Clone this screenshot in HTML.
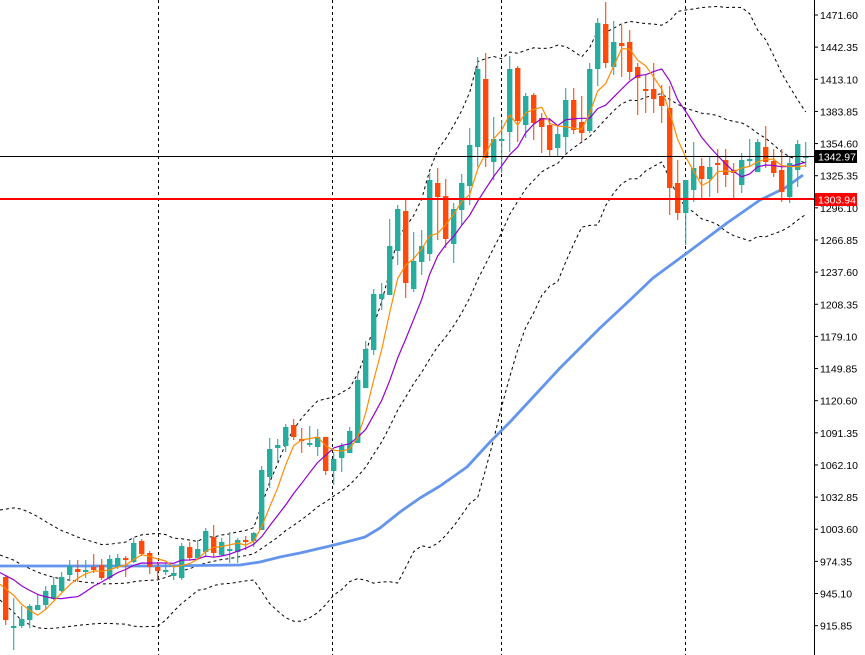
<!DOCTYPE html>
<html><head><meta charset="utf-8"><style>
html,body{margin:0;padding:0;background:#fff;}
svg{display:block;font-family:"Liberation Sans",sans-serif;}
</style></head><body>
<svg id="c" width="865" height="655" xmlns="http://www.w3.org/2000/svg"></svg>
<script>
const D=[
[577,620,575,625],[626,626,598,650],[626,619,606,628],[620,606,604,628],[610,605,594,610],
[605,591,586,609],[599,585,577,600],[591,577,572,592],[575,566,560,581],[569,572,560,582],
[570,570,560,578],[567,570,554,573],[565,578,559,580],[578,559,555,580],[567,558,554,569],
[558,560,556,577],[562,543,538,563],[541,554,539,556],[553,567,551,574],[567,571,562,580],
[570,570,563,575],[576,573,567,580],[578,546,543,580],[547,558,542,560],[558,549,540,560],
[552,531,528,557],[537,553,525,557],[555,542,538,556],[551,549,532,563],[552,540,538,563],
[540,542,536,550],[541,533,532,547],[530,470,466,530],[477,449,438,488],[448,445,439,462],
[446,427,424,452],[425,437,419,440],[439,441,428,453],[443,443,426,447],[447,437,429,456],
[437,471,437,475],[471,459,452,485],[458,446,443,472],[453,431,427,453],[443,380,373,443],
[388,349,341,388],[350,294,289,355],[299,294,283,310],[295,246,219,295],[251,209,205,265],
[211,283,198,298],[289,261,232,292],[262,246,230,275],[254,180,173,261],[183,197,168,240],
[196,239,179,248],[244,209,203,263],[210,183,174,225],[186,145,128,205],[147,69,57,167],
[79,158,53,167],[162,139,117,180],[139,139,120,173],[132,69,56,152],[68,121,66,142],
[125,96,93,138],[95,123,93,140],[118,127,113,153],[125,150,118,157],[148,134,125,157],
[137,100,88,153],[100,130,88,134],[122,133,96,142],[131,69,63,133],[69,23,18,86],
[24,63,2,68],[67,42,21,75],[43,46,25,77],[42,72,30,80],[67,78,63,115],
[89,91,75,113],[89,99,63,113],[96,106,85,123],[108,188,86,215],[183,213,160,220],
[213,180,180,245],[190,168,142,202],[166,179,158,200],[179,167,156,197],[163,165,149,193],
[160,175,149,187],[170,173,163,200],[185,160,153,193],[159,159,139,167],[172,142,139,172],
[147,162,126,168],[161,173,149,177],[170,192,149,202],[197,163,157,203],[170,144,140,187],
[156,156,142,167]];
const N=D.length, X=i=>5.7+8*i;
const svg=document.getElementById('c');
let h='';
[158,332,501,685].forEach(x=>{h+=`<line x1="${x+.5}" y1="0" x2="${x+.5}" y2="655" stroke="#000" stroke-dasharray="3,3"/>`;});
const C=D.map(d=>d[1]);
const pad=[];for(let k=0;k<20;k++)pad.push(520+60*k/19);
const A=pad.concat(C);
function sma(p,i){let s=0;for(let k=0;k<p;k++)s+=A[i+20-k];return s/p;}
function sd(p,i){const m=sma(p,i);let s=0;for(let k=0;k<p;k++){const v=A[i+20-k]-m;s+=v*v;}return Math.sqrt(s/p);}
function pl(pts,st){return `<polyline fill="none" stroke-linejoin="round" ${st} points="${pts.map(p=>p[0].toFixed(1)+','+p[1].toFixed(1)).join(' ')}"/>`;}
let up=[],mid=[],lo=[],o=[],pu=[];
for(let i=0;i<N;i++){const m=sma(20,i),s=sd(20,i);up.push([X(i),m-2*s]);mid.push([X(i),m]);lo.push([X(i),m+2*s]);o.push([X(i),sma(5,i)]);pu.push([X(i),sma(10,i)]);}
up[0][0]=0;mid[0][0]=0;lo[0][0]=0;o[0][0]=0;pu[0][0]=0;
const ds='stroke="#000" stroke-width="1" stroke-dasharray="3,3"';
h+=pl(up,ds)+pl(mid,ds)+pl(lo,ds);
const B=[[0,566],[150,566],[240,565],[260,562],[280,557],[300,553],[330,546],[350,541],[365,537],[380,528],[400,512],[420,498],[440,486],[467,467],[490,442],[510,422],[535,395],[560,368],[600,328],[630,300],[653,278],[687,253],[727,223],[760,200],[785,188],[803,175]];
h+=pl(B,'stroke="#6495ed" stroke-width="2.8"');
for(let i=0;i<N;i++){const [op,cl,hi,lw]=D[i];const x=X(i);const col=cl<=op?'#26ada0':'#ff4a0a';
h+=`<line x1="${x}" y1="${hi}" x2="${x}" y2="${lw}" stroke="${col}" stroke-width="1.1"/>`;
const t=Math.min(op,cl),bh=Math.max(Math.abs(op-cl),2);
h+=`<rect x="${x-2.7}" y="${t}" width="5.4" height="${bh}" fill="${col}"/>`;}
h+=pl(pu,'stroke="#9400d3" stroke-width="1.2"');
h+=pl(o,'stroke="#ff8c00" stroke-width="1.2"');
h+=`<line x1="0" y1="156.5" x2="814" y2="156.5" stroke="#000" stroke-width="1"/>`;
h+=`<line x1="0" y1="199" x2="814" y2="199" stroke="#ff0000" stroke-width="2"/>`;
h+=`<rect x="815" y="0" width="50" height="655" fill="#fff"/>`;
h+=`<line x1="814.5" y1="0" x2="814.5" y2="655" stroke="#000"/>`;
for(let k=0;k<20;k++){const y=15+k*32.14;if(y>650)break;const v=(1471.60-29.25*k).toFixed(2);
h+=`<line x1="814" y1="${y}" x2="818" y2="${y}" stroke="#000"/><text x="820" y="${y+4}" font-size="10.5" fill="#000">${v}</text>`;}
h+=`<rect x="815" y="150" width="42" height="13" fill="#000"/><text x="818" y="160.5" font-size="10.5" fill="#fff">1342.97</text>`;
h+=`<rect x="815" y="193" width="42" height="13" fill="#ff0000"/><text x="818" y="203.5" font-size="10.5" fill="#fff">1303.94</text>`;
svg.innerHTML=h;
</script>
</body></html>
